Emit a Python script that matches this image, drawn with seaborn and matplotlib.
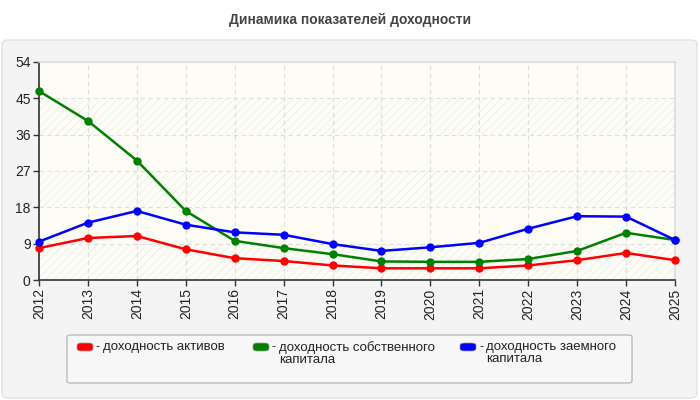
import numpy as np
import pandas as pd
import matplotlib
matplotlib.use("Agg")
import matplotlib.pyplot as plt
from matplotlib.patches import FancyBboxPatch
import seaborn as sns

years = list(range(2012, 2026))
roa = [7.9, 10.4, 10.9, 7.6, 5.4, 4.7, 3.6, 2.9, 2.9, 2.9, 3.6, 4.9, 6.7, 4.9]
roe = [46.8, 39.4, 29.6, 17.1, 9.7, 7.9, 6.4, 4.6, 4.5, 4.5, 5.2, 7.2, 11.7, 9.9]
rod = [9.5, 14.2, 17.1, 13.7, 11.8, 11.2, 8.9, 7.2, 8.1, 9.2, 12.7, 15.8, 15.7, 9.9]
series_names = ["доходность активов", "доходность собственного\nкапитала",
                "доходность заемного\nкапитала"]
colors = ["#ff0000", "#008000", "#0000ff"]
y_ticks = [0, 9, 18, 27, 36, 45, 54]

sns.set_theme(style="white")
plt.rcParams["font.family"] = ["Liberation Sans", "DejaVu Sans"]
plt.rcParams["hatch.linewidth"] = 0.6

df = pd.DataFrame({
    "year": years * 3,
    "value": roa + roe + rod,
    "series": [series_names[0]] * 14 + [series_names[1]] * 14 + [series_names[2]] * 14,
})

fig = plt.figure(figsize=(7, 4), dpi=100)
fig.patch.set_facecolor("white")

# серая подложка под графиком
fig.patches.append(FancyBboxPatch((2 / 700, 2 / 400), 695 / 700, 358 / 400,
                                  boxstyle="round,pad=0,rounding_size=0.01",
                                  transform=fig.transFigure, facecolor="#f4f4f4",
                                  edgecolor="#e2e2e2", linewidth=1, zorder=-10))
fig.text(0.5, 1 - 20 / 400, "Динамика показателей доходности", ha="center", va="center",
         fontsize=10, fontweight="bold", color="#444444")

ax = fig.add_axes([39 / 700, 1 - 280 / 400, 636 / 700, 218 / 400])
ax.set_facecolor("#fdfdf6")
for i in range(6):
    if i % 2 == 0:
        ax.axhspan(y_ticks[i], y_ticks[i + 1], facecolor="none", hatch="////",
                   edgecolor="#ececec", linewidth=0, zorder=0)

sns.lineplot(data=df, x="year", y="value", hue="series", palette=colors,
             marker="o", markersize=6, markeredgewidth=0, linewidth=1.8,
             legend=False, ax=ax, zorder=3)
for ln in ax.lines:
    ln.set_clip_on(False)

ax.set_xlim(2012, 2025)
ax.set_ylim(0, 54)
ax.set_xticks(years)
ax.set_xticklabels([str(y) for y in years], rotation=90, fontsize=10, color="#222222")
ax.set_yticks(y_ticks)
ax.set_yticklabels([str(v) for v in y_ticks], fontsize=10, color="#222222")
ax.set_xlabel("")
ax.set_ylabel("")
ax.grid(True, linestyle=(0, (4, 3)), color="#dddddd", linewidth=0.8)
ax.tick_params(axis="both", length=4, width=1, color="#333333", pad=2, direction="out")
ax.tick_params(axis="both", which="both", bottom=True, left=True)
for side in ["top", "right"]:
    ax.spines[side].set_color("#dddddd")
for side in ["left", "bottom"]:
    ax.spines[side].set_color("#333333")
    ax.spines[side].set_linewidth(1.2)

# легенда
fig.patches.append(FancyBboxPatch((67 / 700, 1 - 383 / 400), 565 / 700, 48 / 400,
                                  boxstyle="round,pad=0,rounding_size=0.005",
                                  transform=fig.transFigure, facecolor="#f7f7f7",
                                  edgecolor="#bbbbbb", linewidth=1, zorder=1))
hx = [77, 253, 460]
for x0, name, c in zip(hx, series_names, colors):
    fig.patches.append(FancyBboxPatch((x0 / 700, 1 - 351 / 400), 16 / 700, 8 / 400,
                                      boxstyle="round,pad=0,rounding_size=0.006",
                                      transform=fig.transFigure, facecolor=c,
                                      edgecolor="#999999", linewidth=0.5, zorder=2))
    fig.text((x0 + 19) / 700, 1 - 347 / 400, "-", ha="left", va="center", fontsize=9,
             color="#222222")
    fig.text((x0 + 26) / 700, 1 - 341 / 400, name, ha="left", va="top", fontsize=9.5,
             color="#222222", linespacing=1.05)

fig.savefig("out.png", dpi=100)
